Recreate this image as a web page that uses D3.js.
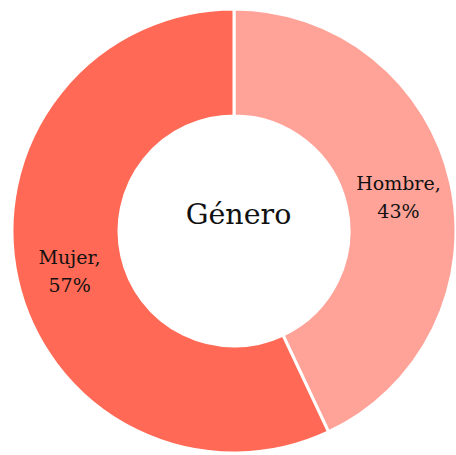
<!DOCTYPE html>
<html><head><meta charset="utf-8">
<script src="https://cdn.jsdelivr.net/npm/d3@7"></script>
<style>html,body{margin:0;padding:0;background:#fff;}svg{display:block;}</style>
</head><body>
<svg id="chart" width="456" height="455"></svg>
<script>
const categories = ["Hombre", "Mujer"];
const values = [43, 57];
const colors = ["#FFA399", "#FF6955"];
const title = "Género";

const svg = d3.select("#chart");
const cx = 234, cy = 231, outerR = 222, innerR = 115;
const g = svg.append("g").attr("transform", `translate(${cx},${cy})`);
const data = categories.map((c, i) => ({cat: c, value: values[i], color: colors[i]}));
const pie = d3.pie().value(d => d.value).sort(null);
const arc = d3.arc().innerRadius(innerR).outerRadius(outerR);
const arcs = pie(data);
g.selectAll("path").data(arcs).join("path")
  .attr("d", arc).attr("fill", d => d.data.color)
  .attr("stroke", "#fff").attr("stroke-width", 3);
const font = "'DejaVu Serif', 'Liberation Serif', serif";
const lbl = g.selectAll("text.lbl").data(arcs).join("text").attr("class", "lbl")
  .attr("text-anchor", "middle").attr("font-family", font).attr("font-size", 19).attr("fill", "#111")
  .attr("transform", d => { const [x, y] = arc.centroid(d); return `translate(${x},${y})`; });
lbl.append("tspan").attr("x", 0).attr("y", -4).text(d => d.data.cat + ",");
lbl.append("tspan").attr("x", 0).attr("y", 24).text(d => d.data.value + "%");
g.append("text").attr("x", 4.5).attr("y", -7).attr("text-anchor", "middle")
  .attr("font-family", font).attr("font-size", 28.5).attr("fill", "#111").text(title);
</script>
</body></html>
